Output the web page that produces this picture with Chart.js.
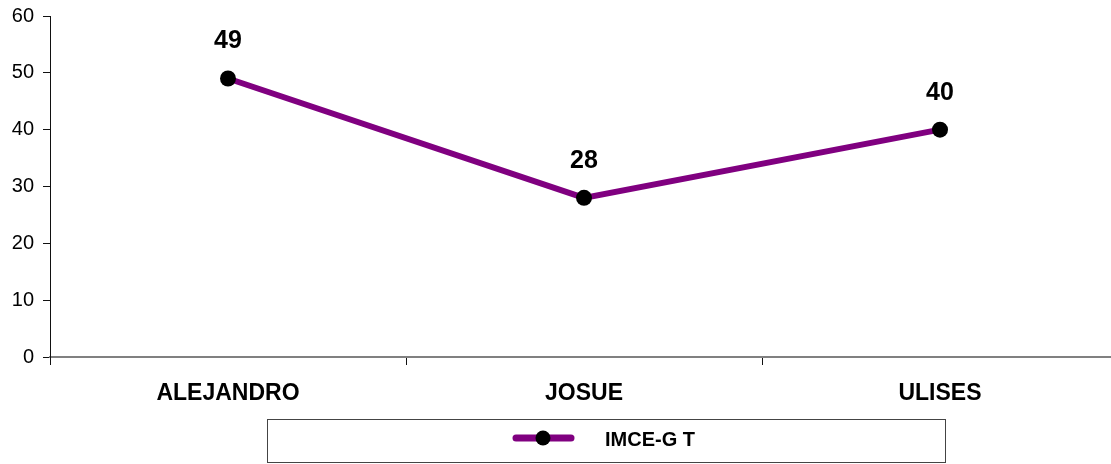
<!DOCTYPE html>
<html>
<head>
<meta charset="utf-8">
<script src="https://cdn.jsdelivr.net/npm/chart.js@4/dist/chart.umd.min.js"></script>
<style>
  html, body { margin: 0; padding: 0; background: #fff; overflow: hidden; }
  #wrap { position: relative; width: 1118px; height: 464px; }
  #c { display: block; width: 1118px; height: 464px; }
</style>
</head>
<body>
<div id="wrap"><canvas id="c" width="1118" height="464"></canvas></div>
<script>
const categories = ['ALEJANDRO', 'JOSUE', 'ULISES'];
const seriesName = 'IMCE-G T';
const seriesValues = [49, 28, 40];
const yTicks = [0, 10, 20, 30, 40, 50, 60];

const FONT = '"Liberation Sans", Arial, sans-serif';
const PURPLE = '#800080';

// value labels above each point
const valueLabels = {
  id: 'valueLabels',
  afterDatasetsDraw(chart) {
    const ctx = chart.ctx;
    const meta = chart.getDatasetMeta(0);
    ctx.save();
    ctx.font = 'bold 25px ' + FONT;
    ctx.fillStyle = '#000';
    ctx.textAlign = 'center';
    ctx.textBaseline = 'middle';
    meta.data.forEach((pt, i) => {
      ctx.fillText(String(chart.data.datasets[0].data[i]), pt.x, pt.y - 37);
    });
    ctx.restore();
  }
};

// boxed legend under the axis labels
const boxedLegend = {
  id: 'boxedLegend',
  afterDraw(chart) {
    const ctx = chart.ctx;
    const ds = chart.data.datasets[0];
    const bx = 267.5, by = 419.5, bw = 678, bh = 43;
    ctx.save();
    ctx.strokeStyle = '#444';
    ctx.lineWidth = 1;
    ctx.strokeRect(bx, by, bw, bh);
    const cy = 438;
    ctx.strokeStyle = ds.borderColor;
    ctx.lineWidth = 7;
    ctx.lineCap = 'round';
    ctx.beginPath();
    ctx.moveTo(516, cy);
    ctx.lineTo(571, cy);
    ctx.stroke();
    ctx.fillStyle = '#000';
    ctx.beginPath();
    ctx.arc(543, cy, 7.5, 0, Math.PI * 2);
    ctx.fill();
    ctx.font = 'bold 20px ' + FONT;
    ctx.textAlign = 'left';
    ctx.textBaseline = 'middle';
    ctx.fillText(ds.label, 605, cy + 2);
    ctx.restore();
  }
};

new Chart(document.getElementById('c'), {
  type: 'line',
  data: {
    labels: categories,
    datasets: [{
      label: seriesName,
      data: seriesValues,
      borderColor: PURPLE,
      borderWidth: 6,
      pointBackgroundColor: '#000',
      pointBorderColor: '#000',
      pointRadius: 8,
      pointBorderWidth: 0,
      tension: 0,
      fill: false
    }]
  },
  options: {
    responsive: false,
    animation: false,
    layout: { autoPadding: false, padding: { top: 16, right: 0, left: 0, bottom: 0 } },
    plugins: { legend: { display: false }, tooltip: { enabled: false } },
    scales: {
      x: {
        type: 'category',
        offset: true,
        grid: {
          display: true,
          offset: true,
          drawOnChartArea: false,
          drawTicks: true,
          tickLength: 8,
          tickColor: '#111',
          tickWidth: 1
        },
        border: { display: true, color: '#808080', width: 2 },
        ticks: {
          color: '#000',
          font: { family: FONT, size: 23, weight: 'bold' },
          padding: 15,
          maxRotation: 0
        },
        afterFit(scale) { scale.height = 107; }
      },
      y: {
        min: 0,
        max: 60,
        afterBuildTicks(scale) { scale.ticks = yTicks.map(v => ({ value: v })); },
        grid: {
          display: true,
          drawOnChartArea: false,
          drawTicks: true,
          tickLength: 7,
          tickColor: '#111'
        },
        border: { display: true, color: '#111', width: 1 },
        ticks: {
          color: '#000',
          font: { family: FONT, size: 20 },
          padding: 9
        },
        afterFit(scale) {
          scale.width = 50;
          scale.paddingTop = 0;
          scale.paddingBottom = 0;
        }
      }
    }
  },
  plugins: [valueLabels, boxedLegend]
});
</script>
</body>
</html>
